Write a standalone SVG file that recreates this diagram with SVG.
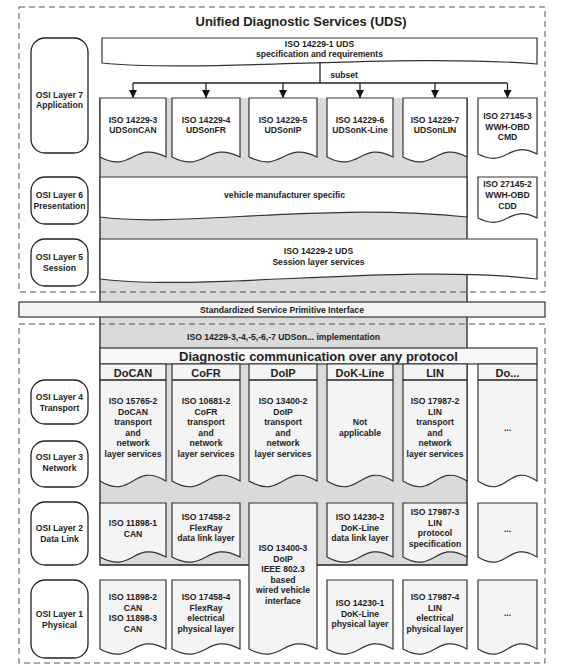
<svg xmlns="http://www.w3.org/2000/svg" width="571" height="670" viewBox="0 0 571 670">
<defs>
<style>
.t{font-family:"Liberation Sans",Arial,sans-serif;font-weight:bold;font-size:8.6px;fill:#222;text-anchor:middle}
.h{font-size:11px}
.big{font-size:13px}
.doc{fill:#fff;stroke:#333;stroke-width:1.2}
.ldoc{fill:#f4f4f4;stroke:#333;stroke-width:1.2}
.osi{fill:#fff;stroke:#222;stroke-width:1.3}
.dash{fill:none;stroke:#555;stroke-width:1;stroke-dasharray:6 4}
.ln{stroke:#222;stroke-width:1.3;fill:none}
</style>
<marker id="arr" viewBox="0 0 8 8" refX="8" refY="4" markerWidth="8" markerHeight="8" markerUnits="userSpaceOnUse" orient="auto">
<path d="M0 0L8 4L0 8Z" fill="#111"/>
</marker>
</defs>
<rect width="571" height="670" fill="#fff"/>

<g id="gray-band">
<rect x="100" y="98" width="367" height="467" fill="#dadada"/>
<path class="ln" d="M100 98V565H467V98"/>
</g>

<g id="frames">
<rect class="dash" x="19" y="7" width="526" height="285"/>
<rect class="dash" x="19" y="324" width="526" height="339"/>
</g>

<text class="t big" x="301" y="26">Unified Diagnostic Services (UDS)</text>

<g id="osi7"><rect class="osi" x="31" y="38" width="57" height="115" rx="14"/><text class="t" x="59.5" y="97.5">OSI Layer 7</text><text class="t" x="59.5" y="108">Application</text></g>
<g id="osi6"><rect class="osi" x="31" y="177" width="57" height="47" rx="14"/><text class="t" x="59.5" y="198">OSI Layer 6</text><text class="t" x="59.5" y="208.5">Presentation</text></g>
<g id="osi5"><rect class="osi" x="31" y="239" width="57" height="47" rx="14"/><text class="t" x="59.5" y="260">OSI Layer 5</text><text class="t" x="59.5" y="270.5">Session</text></g>
<g id="osi4"><rect class="osi" x="31" y="380" width="57" height="44" rx="14"/><text class="t" x="59.5" y="400">OSI Layer 4</text><text class="t" x="59.5" y="410.5">Transport</text></g>
<g id="osi3"><rect class="osi" x="31" y="441" width="57" height="46" rx="14"/><text class="t" x="59.5" y="460">OSI Layer 3</text><text class="t" x="59.5" y="470.5">Network</text></g>
<g id="osi2"><rect class="osi" x="31" y="502" width="57" height="63" rx="14"/><text class="t" x="59.5" y="531">OSI Layer 2</text><text class="t" x="59.5" y="541.5">Data Link</text></g>
<g id="osi1"><rect class="osi" x="31" y="580" width="57" height="78" rx="14"/><text class="t" x="59.5" y="617">OSI Layer 1</text><text class="t" x="59.5" y="627.5">Physical</text></g>

<g id="uds1"><path class="doc" d="M102 38H537V64C400 53 200 73 102 63Z"/><text class="t" x="319.5" y="46.5">ISO 14229-1 UDS</text><text class="t" x="319.5" y="56.5">specification and requirements</text></g>

<g id="connectors">
<path class="ln" d="M320 62V83M133 83H507"/>
<path class="ln" d="M133 83V98" marker-end="url(#arr)"/>
<path class="ln" d="M206 83V98" marker-end="url(#arr)"/>
<path class="ln" d="M283 83V98" marker-end="url(#arr)"/>
<path class="ln" d="M360 83V98" marker-end="url(#arr)"/>
<path class="ln" d="M435 83V98" marker-end="url(#arr)"/>
<path class="ln" d="M507.5 83V98" marker-end="url(#arr)"/>
</g>
<text class="t" x="344" y="78">subset</text>

<g id="udsoncan"><path class="doc" d="M100 98H166V157C133 140 133 174 100 157Z"/><text class="t" x="133" y="122.5">ISO 14229-3</text><text class="t" x="133" y="133">UDSonCAN</text></g>
<g id="udsonfr"><path class="doc" d="M172 98H240V157C206 140 206 174 172 157Z"/><text class="t" x="206" y="122.5">ISO 14229-4</text><text class="t" x="206" y="133">UDSonFR</text></g>
<g id="udsonip"><path class="doc" d="M249 98H317V157C283 140 283 174 249 157Z"/><text class="t" x="283" y="122.5">ISO 14229-5</text><text class="t" x="283" y="133">UDSonIP</text></g>
<g id="udsonkline"><path class="doc" d="M327 98H393V157C360 140 360 174 327 157Z"/><text class="t" x="360" y="122.5">ISO 14229-6</text><text class="t" x="360" y="133">UDSonK-Line</text></g>
<g id="udsonlin"><path class="doc" d="M403 98H467V157C435 140 435 174 403 157Z"/><text class="t" x="435" y="122.5">ISO 14229-7</text><text class="t" x="435" y="133">UDSonLIN</text></g>
<g id="wwhcmd"><path class="doc" d="M478 98H537V154C507.5 139 507.5 169 478 154Z"/><text class="t" x="507.5" y="118.5">ISO 27145-3</text><text class="t" x="507.5" y="129.5">WWH-OBD</text><text class="t" x="507.5" y="140">CMD</text></g>

<g id="vms"><path class="doc" d="M100 177H467V217C320 202 180 228 100 217Z"/><text class="t" x="284.5" y="198">vehicle manufacturer specific</text></g>
<g id="wwhcdd"><path class="doc" d="M478 177H537V218C507.5 203 507.5 233 478 218Z"/><text class="t" x="507.5" y="187">ISO 27145-2</text><text class="t" x="507.5" y="198">WWH-OBD</text><text class="t" x="507.5" y="208.5">CDD</text></g>
<g id="uds2"><path class="doc" d="M100 239H537V279C400 263 200 292 100 279Z"/><text class="t" x="318.5" y="254">ISO 14229-2 UDS</text><text class="t" x="318.5" y="265">Session layer services</text></g>

<g id="sspi"><rect x="19" y="302" width="526" height="15" fill="#f5f5f5" stroke="#333" stroke-width="1.2"/><text class="t" x="282" y="312.5">Standardized Service Primitive Interface</text></g>

<text class="t" x="283.5" y="340">ISO 14229-3,-4,-5,-6,-7 UDSon... implementation</text>
<g id="dcap"><rect x="100" y="348" width="437" height="16" fill="#f7f7f7" stroke="#333" stroke-width="1.2"/><text class="t big" x="318.5" y="360.5">Diagnostic communication over any protocol</text></g>

<g id="docan"><path class="ldoc" d="M100 364H166V481C133 461 133 501 100 481Z"/><path class="ln" d="M100 380H166"/><text class="t h" x="133" y="377">DoCAN</text>
<text class="t" x="133" y="404">ISO 15765-2</text><text class="t" x="133" y="414.6">DoCAN</text><text class="t" x="133" y="425.2">transport</text><text class="t" x="133" y="435.8">and</text><text class="t" x="133" y="446.4">network</text><text class="t" x="133" y="457">layer services</text></g>
<g id="cofr"><path class="ldoc" d="M172 364H240V481C206 461 206 501 172 481Z"/><path class="ln" d="M172 380H240"/><text class="t h" x="206" y="377">CoFR</text>
<text class="t" x="206" y="404">ISO 10681-2</text><text class="t" x="206" y="414.6">CoFR</text><text class="t" x="206" y="425.2">transport</text><text class="t" x="206" y="435.8">and</text><text class="t" x="206" y="446.4">network</text><text class="t" x="206" y="457">layer services</text></g>
<g id="doip"><path class="ldoc" d="M249 364H317V481C283 461 283 501 249 481Z"/><path class="ln" d="M249 380H317"/><text class="t h" x="283" y="377">DoIP</text>
<text class="t" x="283" y="404">ISO 13400-2</text><text class="t" x="283" y="414.6">DoIP</text><text class="t" x="283" y="425.2">transport</text><text class="t" x="283" y="435.8">and</text><text class="t" x="283" y="446.4">network</text><text class="t" x="283" y="457">layer services</text></g>
<g id="dokline"><path class="ldoc" d="M327 364H393V481C360 461 360 501 327 481Z"/><path class="ln" d="M327 380H393"/><text class="t h" x="360" y="377">DoK-Line</text>
<text class="t" x="360" y="425.2">Not</text><text class="t" x="360" y="435.8">applicable</text></g>
<g id="lin"><path class="ldoc" d="M403 364H467V481C435 461 435 501 403 481Z"/><path class="ln" d="M403 380H467"/><text class="t h" x="435" y="377">LIN</text>
<text class="t" x="435" y="404">ISO 17987-2</text><text class="t" x="435" y="414.6">LIN</text><text class="t" x="435" y="425.2">transport</text><text class="t" x="435" y="435.8">and</text><text class="t" x="435" y="446.4">network</text><text class="t" x="435" y="457">layer services</text></g>
<g id="doother"><path class="ldoc" d="M478 364H537V481C507.5 461 507.5 501 478 481Z"/><path class="ln" d="M478 380H537"/><text class="t h" x="507.5" y="377">Do...</text>
<text class="t" x="507.5" y="431">...</text></g>

<g id="can-dl"><path class="ldoc" d="M100 503H166V557C133 539 133 575 100 557Z"/><text class="t" x="133" y="526">ISO 11898-1</text><text class="t" x="133" y="536.5">CAN</text></g>
<g id="fr-dl"><path class="ldoc" d="M172 503H240V557C206 539 206 575 172 557Z"/><text class="t" x="206" y="520">ISO 17458-2</text><text class="t" x="206" y="530.5">FlexRay</text><text class="t" x="206" y="541">data link layer</text></g>
<g id="doip-phy"><path class="ldoc" d="M249 503H317V649C283 631 283 667 249 649Z"/><text class="t" x="283" y="551">ISO 13400-3</text><text class="t" x="283" y="561.5">DoIP</text><text class="t" x="283" y="572">IEEE 802.3</text><text class="t" x="283" y="582.5">based</text><text class="t" x="283" y="593">wired vehicle</text><text class="t" x="283" y="603.5">interface</text></g>
<g id="kl-dl"><path class="ldoc" d="M327 503H393V557C360 539 360 575 327 557Z"/><text class="t" x="360" y="520">ISO 14230-2</text><text class="t" x="360" y="530.5">DoK-Line</text><text class="t" x="360" y="541">data link layer</text></g>
<g id="lin-dl"><path class="ldoc" d="M403 503H467V557C435 539 435 575 403 557Z"/><text class="t" x="435" y="515">ISO 17987-3</text><text class="t" x="435" y="525.5">LIN</text><text class="t" x="435" y="536">protocol</text><text class="t" x="435" y="546.5">specification</text></g>
<g id="other-dl"><path class="ldoc" d="M478 503H537V557C507.5 539 507.5 575 478 557Z"/><text class="t" x="507.5" y="532">...</text></g>

<g id="can-phy"><path class="ldoc" d="M100 580H166V649C133 631 133 667 100 649Z"/><text class="t" x="133" y="600">ISO 11898-2</text><text class="t" x="133" y="610.5">CAN</text><text class="t" x="133" y="621">ISO 11898-3</text><text class="t" x="133" y="631.5">CAN</text></g>
<g id="fr-phy"><path class="ldoc" d="M172 580H240V649C206 631 206 667 172 649Z"/><text class="t" x="206" y="600">ISO 17458-4</text><text class="t" x="206" y="610.5">FlexRay</text><text class="t" x="206" y="621">electrical</text><text class="t" x="206" y="631.5">physical layer</text></g>
<g id="kl-phy"><path class="ldoc" d="M327 580H393V649C360 631 360 667 327 649Z"/><text class="t" x="360" y="606">ISO 14230-1</text><text class="t" x="360" y="616.5">DoK-Line</text><text class="t" x="360" y="627">physical layer</text></g>
<g id="lin-phy"><path class="ldoc" d="M403 580H467V649C435 631 435 667 403 649Z"/><text class="t" x="435" y="600">ISO 17987-4</text><text class="t" x="435" y="610.5">LIN</text><text class="t" x="435" y="621">electrical</text><text class="t" x="435" y="631.5">physical layer</text></g>
<g id="other-phy"><path class="ldoc" d="M478 580H537V649C507.5 631 507.5 667 478 649Z"/><text class="t" x="507.5" y="616">...</text></g>
</svg>
